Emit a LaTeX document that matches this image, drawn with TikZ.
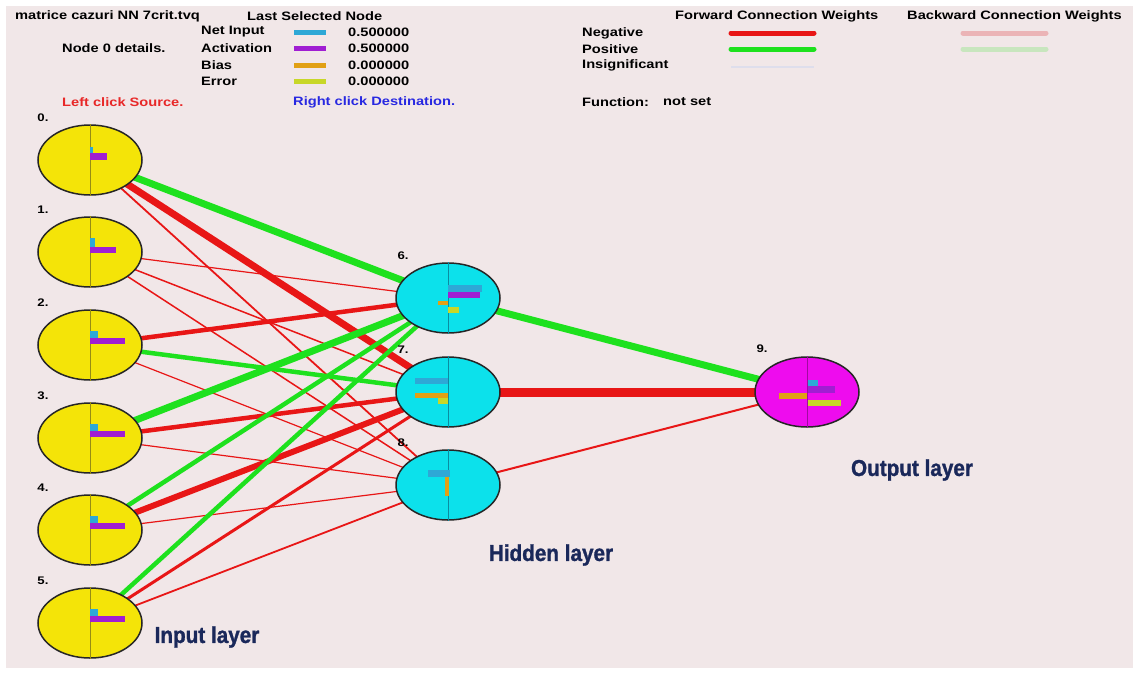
\documentclass[tikz,border=0pt]{standalone}
\usepackage{fontspec}
\newfontfamily\uif{Liberation Sans}[FakeStretch=1.2]
\newfontfamily\lyf{Liberation Sans}[FakeStretch=0.9,FakeBold=1.2]
\usetikzlibrary{shapes.geometric}
\definecolor{bgc}{RGB}{241,231,232}
\definecolor{nred}{RGB}{232,22,22}
\definecolor{ngreen}{RGB}{30,225,30}
\definecolor{yfill}{RGB}{244,228,8}
\definecolor{cfill}{RGB}{12,225,235}
\definecolor{mfill}{RGB}{238,12,238}
\definecolor{yline}{RGB}{150,140,20}
\definecolor{cline}{RGB}{10,140,160}
\definecolor{mline}{RGB}{160,10,160}
\definecolor{cnet}{RGB}{46,168,214}
\definecolor{cact}{RGB}{160,30,210}
\definecolor{cbias}{RGB}{225,160,20}
\definecolor{cerr}{RGB}{200,215,40}
\definecolor{navy}{RGB}{26,40,90}
\definecolor{bneg}{RGB}{235,180,182}
\definecolor{bpos}{RGB}{200,230,190}
\definecolor{insig}{RGB}{222,222,236}
\definecolor{lblue}{RGB}{40,40,225}
\definecolor{lred}{RGB}{232,40,40}
\pgfdeclarelayer{bglayer}
\pgfdeclarelayer{edgelayer}
\pgfsetlayers{bglayer,edgelayer,main}
\begin{document}
\begin{tikzpicture}[x=1pt,y=-1pt,
  ui/.style={anchor=west,inner sep=0,font=\uif\fontsize{12.2}{14}\selectfont\bfseries},
  nlab/.style={inner sep=0,font=\uif\fontsize{11}{12}\selectfont\bfseries},
  layerlab/.style={inner sep=0,text=navy,font=\lyf\fontsize{23}{25}\selectfont\bfseries},
  neuron/.style={ellipse,draw=black!85,line width=1.5pt,minimum width=104pt,minimum height=70pt,inner sep=0},
  inn/.style={neuron,fill=yfill},
  hid/.style={neuron,fill=cfill},
  outn/.style={neuron,fill=mfill},
  wneg/.style={draw=nred},
  wpos/.style={draw=ngreen},
  wXL/.style={line width=9pt},
  wL/.style={line width=7pt},
  wM/.style={line width=4.5pt},
  wS/.style={line width=3pt},
  wT/.style={line width=1.2pt},
  legbar/.style={line width=5pt,line cap=round},
]
\useasboundingbox (0,0) rectangle (1135,675);
\begin{pgfonlayer}{bglayer}
\fill[white] (0,0) rectangle (1135,675);
\fill[bgc] (6,6) rectangle (1133,668);
\end{pgfonlayer}

% header texts
\node[ui] (title) at (15,16) {matrice cazuri NN 7crit.tvq};
\node[ui] (lsn) at (247,16) {Last Selected Node};
\node[ui] (tni) at (201,32) {Net Input};
\node[ui] (tac) at (201,48) {Activation};
\node[ui] (tbi) at (201,65) {Bias};
\node[ui] (ter) at (201,81) {Error};
\node[ui] (vni) at (348,32) {0.500000};
\node[ui] (vac) at (348,48) {0.500000};
\node[ui] (vbi) at (348,65) {0.000000};
\node[ui] (ver) at (348,81) {0.000000};
\node[ui] (nd) at (62,48) {Node 0 details.};
\node[ui,text=lred] (lcs) at (62,102) {Left click Source.};
\node[ui,text=lblue] (rcd) at (293,102) {Right click Destination.};
\coordinate (a1) at (294,32); \coordinate (a2) at (326,32);
\coordinate (b1) at (294,48); \coordinate (b2) at (326,48);
\coordinate (c1) at (294,65); \coordinate (c2) at (326,65);
\coordinate (d1) at (294,81); \coordinate (d2) at (326,81);
\draw[cnet,line width=5pt] (a1) -- (a2);
\draw[cact,line width=5pt] (b1) -- (b2);
\draw[cbias,line width=5pt] (c1) -- (c2);
\draw[cerr,line width=5pt] (d1) -- (d2);

\node[ui] (fcw) at (675,16) {Forward Connection Weights};
\node[ui] (bcw) at (907,16) {Backward Connection Weights};
\node[ui] (tneg) at (582,33) {Negative};
\node[ui] (tpos) at (582,49) {Positive};
\node[ui] (tins) at (582,65) {Insignificant};
\node[ui] (tfun) at (582,102) {Function:};
\node[ui] (tns) at (663,102) {not set};
\coordinate (f1) at (731,33); \coordinate (f2) at (814,33);
\coordinate (g1) at (731,49); \coordinate (g2) at (814,49);
\coordinate (h1) at (731,67); \coordinate (h2) at (814,67);
\coordinate (k1) at (963,33); \coordinate (k2) at (1046,33);
\coordinate (m1) at (963,49); \coordinate (m2) at (1046,49);
\draw[legbar,nred] (f1) -- (f2);
\draw[legbar,ngreen] (g1) -- (g2);
\draw[insig,line width=1.5pt] (h1) -- (h2);
\draw[legbar,bneg] (k1) -- (k2);
\draw[legbar,bpos] (m1) -- (m2);

% neurons
\node[inn] (n0) at (90,160) {};
\node[inn] (n1) at (90,252) {};
\node[inn] (n2) at (90,345) {};
\node[inn] (n3) at (90,438) {};
\node[inn] (n4) at (90,530) {};
\node[inn] (n5) at (90,623) {};
\node[hid] (n6) at (448,298) {};
\node[hid] (n7) at (448,392) {};
\node[hid] (n8) at (448,485) {};
\node[outn] (n9) at (807,392) {};

% node labels
\node[nlab] (l0) at (43,118) {0.};
\node[nlab] (l1) at (43,210) {1.};
\node[nlab] (l2) at (43,303) {2.};
\node[nlab] (l3) at (43,396) {3.};
\node[nlab] (l4) at (43,488) {4.};
\node[nlab] (l5) at (43,581) {5.};
\node[nlab] (l6) at (403,256) {6.};
\node[nlab] (l7) at (403,350) {7.};
\node[nlab] (l8) at (403,443) {8.};
\node[nlab] (l9) at (762,349) {9.};

% connections
\begin{pgfonlayer}{edgelayer}
\draw[wpos,wL] (n0.center) -- (n6.center);
\draw[wneg,wL] (n0.center) -- (n7.center);
\draw[wneg,line width=1.8pt] (n0.center) -- (n8.center);
\draw[wneg,wT] (n1.center) -- (n6.center);
\draw[wneg,line width=1.5pt] (n1.center) -- (n7.center);
\draw[wneg,line width=1.5pt] (n1.center) -- (n8.center);
\draw[wneg,wM] (n2.center) -- (n6.center);
\draw[wpos,wM] (n2.center) -- (n7.center);
\draw[wneg,wT] (n2.center) -- (n8.center);
\draw[wpos,wL] (n3.center) -- (n6.center);
\draw[wneg,wM] (n3.center) -- (n7.center);
\draw[wneg,wT] (n3.center) -- (n8.center);
\draw[wpos,wM] (n4.center) -- (n6.center);
\draw[wneg,line width=6pt] (n4.center) -- (n7.center);
\draw[wneg,wT] (n4.center) -- (n8.center);
\draw[wpos,wM] (n5.center) -- (n6.center);
\draw[wneg,wS] (n5.center) -- (n7.center);
\draw[wneg,line width=1.8pt] (n5.center) -- (n8.center);
\draw[wpos,wL] (n6.center) -- (n9.center);
\draw[wneg,wXL] (n7.center) -- (n9.center);
\draw[wneg,line width=2pt] (n8.center) -- (n9.center);
\end{pgfonlayer}

% inner vertical lines
\draw[yline,line width=0.7pt] (n0.north) -- (n0.south);
\draw[yline,line width=0.7pt] (n1.north) -- (n1.south);
\draw[yline,line width=0.7pt] (n2.north) -- (n2.south);
\draw[yline,line width=0.7pt] (n3.north) -- (n3.south);
\draw[yline,line width=0.7pt] (n4.north) -- (n4.south);
\draw[yline,line width=0.7pt] (n5.north) -- (n5.south);
\draw[cline,line width=0.7pt] (n6.north) -- (n6.south);
\draw[cline,line width=0.7pt] (n7.north) -- (n7.south);
\draw[cline,line width=0.7pt] (n8.north) -- (n8.south);
\draw[mline,line width=0.7pt] (n9.north) -- (n9.south);

% bars in input nodes
\fill[cnet] ([shift={(0,-13)}]n0.center) rectangle ([shift={(3,-7)}]n0.center);
\fill[cact] ([shift={(0,-7)}]n0.center) rectangle ([shift={(17,0)}]n0.center);
\fill[cnet] ([shift={(0,-14)}]n1.center) rectangle ([shift={(5,-5)}]n1.center);
\fill[cact] ([shift={(0,-5)}]n1.center) rectangle ([shift={(26,1)}]n1.center);
\foreach \n in {n2,n3,n4,n5}{
  \fill[cnet] ([shift={(0,-14)}]\n.center) rectangle ([shift={(8,-7)}]\n.center);
  \fill[cact] ([shift={(0,-7)}]\n.center) rectangle ([shift={(35,-1)}]\n.center);
}
% hidden 6
\fill[cnet] ([shift={(0,-13)}]n6.center) rectangle ([shift={(34,-6)}]n6.center);
\fill[cact] ([shift={(0,-6)}]n6.center) rectangle ([shift={(32,0)}]n6.center);
\fill[cbias] ([shift={(-10,3)}]n6.center) rectangle ([shift={(0,7)}]n6.center);
\fill[cerr] ([shift={(0,9)}]n6.center) rectangle ([shift={(11,15)}]n6.center);
% hidden 7
\fill[cnet] ([shift={(-33,-14)}]n7.center) rectangle ([shift={(0,-8)}]n7.center);
\fill[cbias] ([shift={(-33,1)}]n7.center) rectangle ([shift={(0,6)}]n7.center);
\fill[cerr] ([shift={(-10,6)}]n7.center) rectangle ([shift={(0,12)}]n7.center);
% hidden 8
\fill[cnet] ([shift={(-20,-15)}]n8.center) rectangle ([shift={(2,-8)}]n8.center);
\fill[cbias] ([shift={(-3,-8)}]n8.center) rectangle ([shift={(1,11)}]n8.center);
% output 9
\fill[cnet] ([shift={(1,-12)}]n9.center) rectangle ([shift={(11,-6)}]n9.center);
\fill[cact] ([shift={(1,-6)}]n9.center) rectangle ([shift={(28,1)}]n9.center);
\fill[cbias] ([shift={(-28,1)}]n9.center) rectangle ([shift={(0,7)}]n9.center);
\fill[cerr] ([shift={(1,8)}]n9.center) rectangle ([shift={(34,14)}]n9.center);

% layer labels
\node[layerlab] (il) at (207,637) {Input layer};
\node[layerlab] (hl) at (551,555) {Hidden layer};
\node[layerlab] (ol) at (912,470) {Output layer};
\end{tikzpicture}
\end{document}
